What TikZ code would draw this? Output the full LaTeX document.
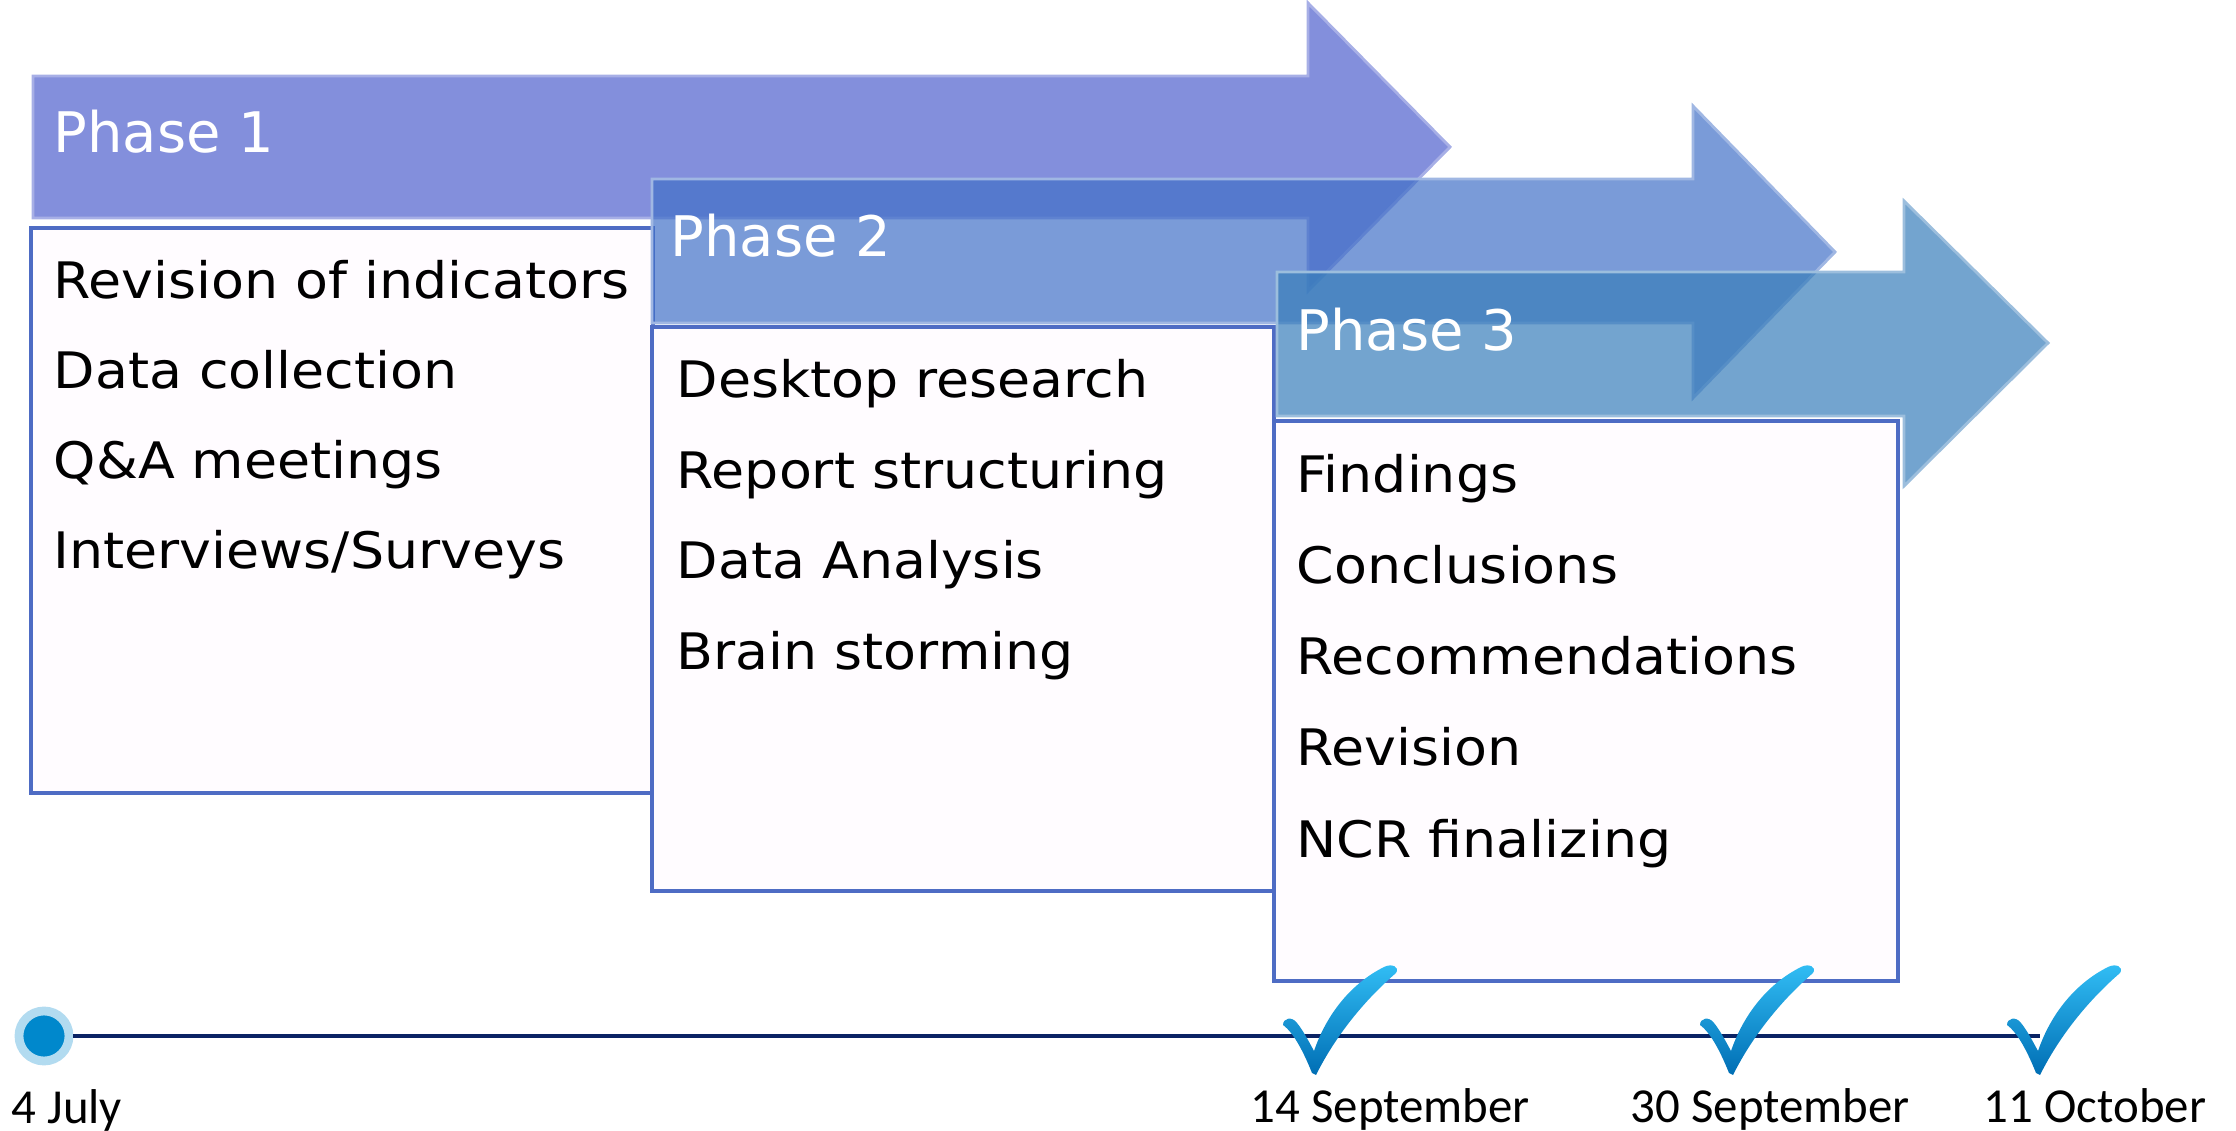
\documentclass[tikz,border=0pt]{standalone}
\usepackage{fontspec}
\setmainfont{DejaVu Sans}
\newfontfamily\taskfont[FakeStretch=1.07]{DejaVu Sans}
\newfontfamily\datefont{Carlito}
\usetikzlibrary{positioning,calc}

\definecolor{phaseone}{RGB}{79,96,205}
\definecolor{phasetwo}{RGB}{65,112,199}
\definecolor{phasethree}{RGB}{56,126,186}
\definecolor{boxline}{RGB}{78,108,196}
\definecolor{boxfill}{RGB}{255,252,255}
\definecolor{navy}{RGB}{10,35,100}
\definecolor{dotblue}{RGB}{0,136,204}
\definecolor{ticktop}{RGB}{50,190,245}
\definecolor{tickbot}{RGB}{0,110,180}

\begin{document}
\begin{tikzpicture}[x=0.01cm,y=-0.01cm,
    phasearrow/.style={fill opacity=0.7, line width=0.8pt},
    taskbox/.style={draw=boxline, fill=boxfill, line width=0.9pt},
    phasetitle/.style={anchor=base west, inner sep=0pt, text=white, font=\fontsize{15.9}{19}\selectfont},
    task/.style={anchor=base west, inner sep=0pt, font=\taskfont\fontsize{14.3}{17}\selectfont},
    datelabel/.style={anchor=base west, inner sep=0pt, font=\datefont\fontsize{13.9}{16}\selectfont}]
  \useasboundingbox (0,0) rectangle (2236,1131);

  % phase 1
  \filldraw[phasearrow, fill=phaseone, draw=phaseone!50!white]
    (33,76) -- (1308,76) -- (1308,3) -- (1450,147) -- (1308,291) -- (1308,218) -- (33,218) -- cycle;
  \node[phasetitle] (p1) at (53,153) {Phase 1};
  \draw[taskbox] (31,228) rectangle (653,793);
  \foreach \t [count=\i from 0] in {Revision of indicators, Data collection, Q\&A meetings, Interviews/Surveys}
    \node[task] (a\i) at (53,{299+90*\i}) {\t};

  % phase 2
  \filldraw[phasearrow, fill=phasetwo, draw=phasetwo!50!white]
    (652,179) -- (1693,179) -- (1693,106) -- (1835,252) -- (1693,398) -- (1693,323) -- (652,323) -- cycle;
  \node[phasetitle] (p2) at (670,257) {Phase 2};
  \draw[taskbox] (652,327) rectangle (1274,891);
  \foreach \t [count=\i from 0] in {Desktop research, Report structuring, Data Analysis, Brain storming}
    \node[task] (b\i) at (676,{398+90.5*\i}) {\t};

  % phase 3
  \filldraw[phasearrow, fill=phasethree, draw=phasethree!50!white]
    (1277,272) -- (1904,272) -- (1904,201) -- (2048,343) -- (1904,486) -- (1904,416) -- (1277,416) -- cycle;
  \node[phasetitle] (p3) at (1296,351) {Phase 3};
  \draw[taskbox] (1274,421) rectangle (1898,981);
  \foreach \t [count=\i from 0] in {Findings, Conclusions, Recommendations, Revision, NCR finalizing}
    \node[task] (c\i) at (1296,{493+91*\i}) {\t};

  % timeline
  \node[circle, fill=dotblue, draw=dotblue!30, line width=2.5pt, minimum size=0.5cm, inner sep=0pt] (start) at (44,1036) {};
  \coordinate (finish) at (2040,1036);
  \draw[navy, line width=1.2pt] (start) -- (finish);

  \foreach \x in {1312,1729,2036}
    \shade[top color=ticktop, bottom color=tickbot, shift={(\x,1073)}]
      (0,0) .. controls (-8,-20) and (-18,-40) .. (-29,-48)
      .. controls (-29,-55) and (-20,-57) .. (-15,-50)
      .. controls (-10,-44) and (-5,-35) .. (2,-22)
      .. controls (15,-60) and (40,-90) .. (72,-106)
      .. controls (80,-110) and (88,-106) .. (84,-100)
      .. controls (55,-75) and (25,-40) .. (4,2) -- cycle;

  \node[datelabel] (d0) at (11,1123) {4 July};
  \node[datelabel] (d1) at (1250,1122) {14 September};
  \node[datelabel] (d2) at (1630,1122) {30 September};
  \node[datelabel] (d3) at (1983,1122) {11 October};
\end{tikzpicture}
\end{document}
